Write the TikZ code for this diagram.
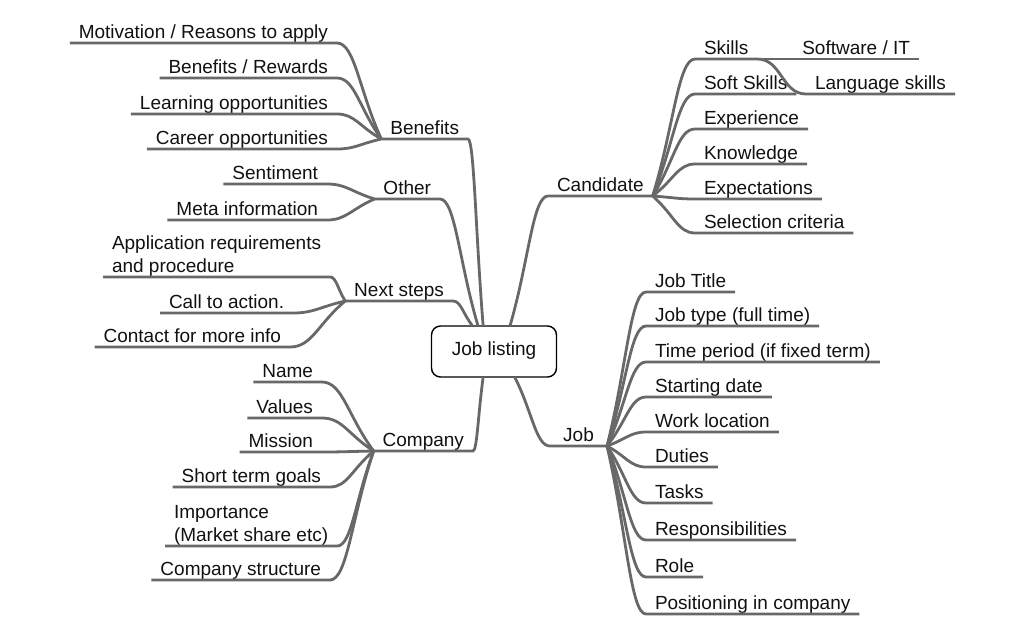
\documentclass[tikz,border=0pt]{standalone}
\usepackage{fontspec}
\setmainfont{Liberation Sans}
\usepackage{xcolor}
\definecolor{BranchGray}{HTML}{686868}
\definecolor{LabelInk}{HTML}{111111}
\usepackage{tikz}
\usetikzlibrary{calc}

\begin{document}
\begin{tikzpicture}[x=1pt, y=-1pt,
  every node/.style={font=\fontsize{19}{23}\selectfont, text=LabelInk, inner xsep=9pt, inner ysep=0pt, outer sep=0pt, text depth=5pt},
  branch/.style={draw=BranchGray, line width=2.8pt},
  link/.style={to path={let \p1=(\tikztostart), \p2=(\tikztotarget) in
    .. controls ($(\p1)!0.5!(\p2)$) and ($(\p2)+({0.4*(\x1-\x2)},0pt)$) .. (\p2)}},
  slink/.style={to path={let \p1=(\tikztostart), \p2=(\tikztotarget) in
    .. controls ($(\p1)+({0.5*(\x2-\x1)},0pt)$) and ($(\p2)+({0.5*(\x1-\x2)},0pt)$) .. (\p2)}},
  root/.style={draw=black, line width=1.4pt, rounded corners=9pt, fill=white, minimum width=125pt, minimum height=51pt, inner sep=0pt}]
  \useasboundingbox (0,0) rectangle (1024,633);

  \node[root] (root) at (494,351.5) {Job listing};

  % candidate side
  \node[anchor=south west] (cand) at (548,196) {Candidate};
  \node[anchor=south west] (skills) at (695,59) {Skills};
  \node[anchor=south east] (softit) at (919,59) {Software / IT};
  \node[anchor=south east] (lang) at (955,94) {Language skills};
  \node[anchor=south west] (soft) at (695,94) {Soft Skills};
  \node[anchor=south west] (exper) at (695,129) {Experience};
  \node[anchor=south west] (know) at (695,164) {Knowledge};
  \node[anchor=south west] (expect) at (695,199) {Expectations};
  \node[anchor=south west] (select) at (695,233) {Selection criteria};

  % job side
  \node[anchor=south west, minimum width=57pt] (job) at (550,446) {Job};
  \foreach \n/\y/\t in {jtitle/292/{Job Title}, jtype/326/{Job type (full time)},
      jperiod/362/{Time period (if fixed term)}, jstart/397/{Starting date},
      jloc/432/{Work location}, jduties/467/{Duties}, jtasks/503/{Tasks},
      jresp/540/{Responsibilities}, jrole/577/{Role}, jpos/614/{Positioning in company}}
    \node[anchor=south west] (\n) at (646,\y) {\t};

  % benefits and other
  \node[anchor=south east] (benef) at (468,139) {Benefits};
  \node[anchor=south east] (mot) at (337,43) {Motivation / Reasons to apply};
  \node[anchor=south east] (rew) at (337,78) {Benefits / Rewards};
  \node[anchor=south east] (learn) at (337,114) {Learning opportunities};
  \node[anchor=south east] (career) at (337,149) {Career opportunities};
  \node[anchor=south east] (other) at (440,199) {Other};
  \node[anchor=south east] (sent) at (327,184) {Sentiment};
  \node[anchor=south east] (meta) at (327,220) {Meta information};

  % next steps
  \node[anchor=south east] (next) at (453,301) {Next steps};
  \node[anchor=south west] (appl) at (103,277) {\begin{tabular}[b]{@{}l@{}}Application requirements\\and procedure\end{tabular}};
  \node[anchor=south west] (call) at (160,313) {Call to action.};
  \node[anchor=south east] (contact) at (290,347) {Contact for more info};

  % company
  \node[anchor=south east] (comp) at (473,451) {Company};
  \node[anchor=south east] (name) at (322,382) {Name};
  \node[anchor=south east] (values) at (322,418) {Values};
  \node[anchor=south east] (mission) at (322,452) {Mission};
  \node[anchor=south east] (short) at (330,487) {Short term goals};
  \node[anchor=south west] (import) at (165,546) {\begin{tabular}[b]{@{}l@{}}Importance\\(Market share etc)\end{tabular}};
  \node[anchor=south east] (struct) at (330,580) {Company structure};

  % main branches
  \draw[branch] (root.58) to[link] (cand.south west) -- (cand.south east);
  \draw[branch] (root.309) to[link] (job.south west) -- (job.south east);
  \draw[branch] (root.113) to[link] (benef.south east) -- (benef.south west);
  \draw[branch] (root.122) to[link] (other.south east) -- (other.south west);
  \draw[branch] (root.130) to[link] (next.south east) -- (next.south west);
  \draw[branch] (root.247) to[link] (comp.south east) -- (comp.south west);

  % sub branches
  \foreach \c in {skills,soft,exper,know,expect,select}
    \draw[branch] (cand.south east) to[link] (\c.south west) -- (\c.south east);
  \draw[branch] (skills.south east) to[link] (softit.south west) -- (softit.south east);
  \draw[branch] (skills.south east) to[slink] (lang.south west) -- (lang.south east);
  \foreach \c in {jtitle,jtype,jperiod,jstart,jloc,jduties,jtasks,jresp,jrole,jpos}
    \draw[branch] (job.south east) to[link] (\c.south west) -- (\c.south east);
  \foreach \c in {mot,rew,learn,career}
    \draw[branch] (benef.south west) to[link] (\c.south east) -- (\c.south west);
  \foreach \c in {sent,meta}
    \draw[branch] (other.south west) to[link] (\c.south east) -- (\c.south west);
  \foreach \c in {appl,call,contact}
    \draw[branch] (next.south west) to[link] (\c.south east) -- (\c.south west);
  \foreach \c in {name,values,mission,short,import,struct}
    \draw[branch] (comp.south west) to[link] (\c.south east) -- (\c.south west);
\end{tikzpicture}
\end{document}
